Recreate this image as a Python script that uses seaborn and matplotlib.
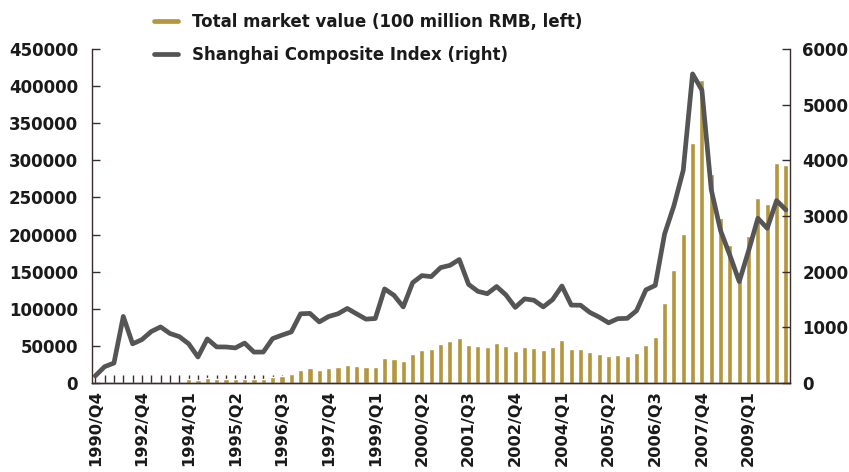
import numpy as np
import pandas as pd
import matplotlib
matplotlib.use("Agg")
import matplotlib.pyplot as plt
import seaborn as sns

# Quarter labels: 1990/Q4, 1991 (year end), then quarterly 1992/Q1 .. 2010/Q1
quarters = ["1990/Q4", "1991/Q4"]
for yr in range(1992, 2010):
    for q in range(1, 5):
        quarters.append(f"{yr}/Q{q}")
quarters.append("2010/Q1")

# Total market value (100 million RMB, left axis)
market_value = [
    0, 0, 0, 0, 0, 0, 0, 0, 0, 0,
    5800, 4000, 6700, 5400, 5400, 5400, 5400, 5400, 5400, 8000,
    9400, 11800, 17100, 19800, 17500, 20200, 21600, 23800, 22400, 21600,
    22000, 33300, 32300, 29200, 39500, 44500, 45800, 52500, 56600, 60200,
    51200, 49500, 48500, 53500, 49900, 43100, 48000, 46500, 44300, 48000,
    57500, 45800, 45300, 41700, 39500, 35900, 37700, 36800, 40400, 50800,
    61600, 107800, 152300, 200800, 323400, 408800, 282000, 222900, 185300, 150000,
    198100, 249000, 241300, 296100, 293400,
]

# Shanghai Composite Index (right axis)
sh_index = [
    128, 293, 358, 1195, 703, 780, 925, 1007, 889, 833,
    705, 467, 792, 648, 647, 630, 717, 555, 556, 797,
    860, 917, 1243, 1250, 1097, 1194, 1243, 1339, 1242, 1147,
    1158, 1690, 1576, 1367, 1801, 1929, 1911, 2073, 2113, 2218,
    1771, 1646, 1604, 1733, 1582, 1358, 1511, 1487, 1367, 1497,
    1742, 1399, 1397, 1267, 1182, 1081, 1156, 1161, 1299, 1673,
    1753, 2676, 3184, 3821, 5553, 5262, 3473, 2737, 2294, 1821,
    2373, 2959, 2779, 3277, 3110,
]

df = pd.DataFrame({"quarter": quarters, "value": market_value, "index": sh_index})
df["pos"] = np.arange(len(df))

sns.set_style("white")
plt.rcParams["font.family"] = ["DejaVu Sans"]

gold = "#b5963d"
grey = "#555555"
dark = "#3a2c2c"
txt = "#1a1a1a"

fig = plt.figure(figsize=(8.49, 4.72), dpi=100)
ax = fig.add_axes([0.1084, 0.1886, 0.822, 0.7076])

sns.barplot(data=df, x="quarter", y="value", color=gold, width=0.55,
            saturation=1, ax=ax)
ax.set_ylim(0, 450000)
ax.set_yticks(np.arange(0, 450001, 50000))
ax.set_xlim(-0.35, len(df) - 0.57)

ax2 = ax.twinx()
sns.lineplot(data=df, x="pos", y="index", color=grey, linewidth=3.4, ax=ax2,
             legend=False)
ax2.set_ylim(0, 6000)
ax2.set_yticks(np.arange(0, 6001, 1000))
ax2.set_xlim(-0.35, len(df) - 0.57)

for a in (ax, ax2):
    a.set_xlabel("")
    a.set_ylabel("")
    a.spines["top"].set_visible(False)
    for s in ("left", "right", "bottom"):
        a.spines[s].set_color(dark)
        a.spines[s].set_linewidth(1.0)

ax.spines["right"].set_visible(False)
ax2.spines["left"].set_visible(False)

ax.set_xticks(df["pos"])
ax.set_xticklabels([q if i % 5 == 0 else "" for i, q in enumerate(quarters)],
                   rotation=90, fontsize=11.7, fontweight="bold", color=txt)
ax.tick_params(axis="x", bottom=True, direction="in", length=6, width=1,
               color=dark, pad=5)
ax.tick_params(axis="y", left=True, right=False, direction="in", length=6,
               width=1, color=dark, pad=10, labelsize=12, labelcolor=txt)
ax2.tick_params(axis="y", right=True, left=False, direction="in", length=6,
                width=1, color=dark, pad=9, labelsize=12, labelcolor=txt)
for lbl in ax.get_yticklabels() + ax2.get_yticklabels():
    lbl.set_fontweight("bold")

handles = [plt.Line2D([], [], color=gold, linewidth=3.4),
           plt.Line2D([], [], color=grey, linewidth=3.4)]
labels = ["Total market value (100 million RMB, left)",
          "Shanghai Composite Index (right)"]
leg = fig.legend(handles, labels, loc="upper left", bbox_to_anchor=(0.164, 1.005),
                 frameon=False, handlelength=1.45, handletextpad=0.8,
                 labelspacing=0.9, prop={"size": 12, "weight": "bold"})
for t in leg.get_texts():
    t.set_color(txt)

fig.savefig("out.png", dpi=100)
